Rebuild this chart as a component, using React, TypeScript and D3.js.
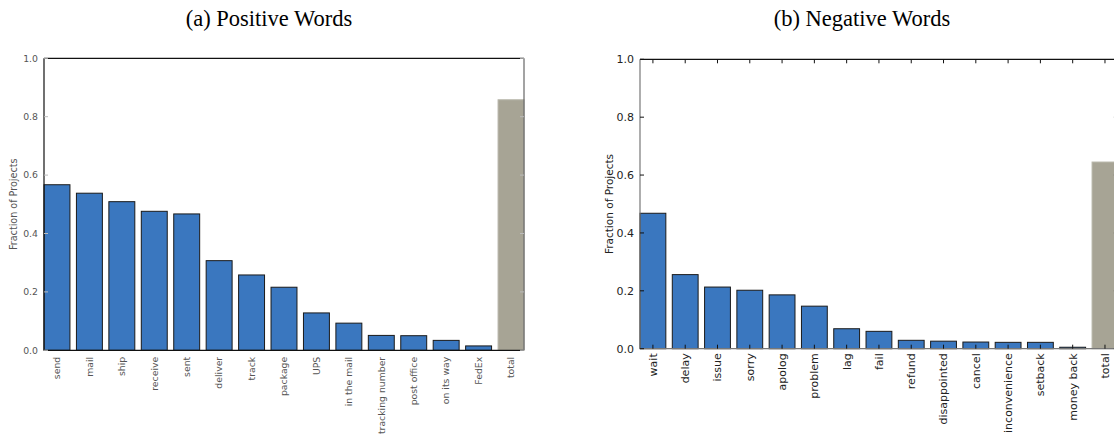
import React from "react";
import * as d3 from "d3";

const posWords = ["send", "mail", "ship", "receive", "sent", "deliver", "track", "package", "UPS", "in the mail", "tracking number", "post office", "on its way", "FedEx", "total"];
const posValues = [0.567, 0.538, 0.509, 0.476, 0.467, 0.307, 0.258, 0.216, 0.128, 0.093, 0.051, 0.05, 0.034, 0.015, 0.858];

const negWords = ["wait", "delay", "issue", "sorry", "apolog", "problem", "lag", "fail", "refund", "disappointed", "cancel", "inconvenience", "setback", "money back", "total"];
const negValues = [0.468, 0.256, 0.213, 0.202, 0.186, 0.147, 0.069, 0.06, 0.029, 0.026, 0.023, 0.022, 0.022, 0.005, 0.645];

const yTicks = [0, 0.2, 0.4, 0.6, 0.8, 1.0];

const BLUE = "#3a77bf";
const GRAY = "#a7a495";

interface PanelProps {
  words: string[];
  values: number[];
  left: number;
  right: number;
  top: number;
  bottom: number;
  fontSize: number;
  labelFont: number;
  textColor: string;
  leftSpine: string;
  bottomSpine: string;
  rightSpine: string;
  tickColor: string;
  xTicks: boolean;
  xLabelGap: number;
  titleText: string;
  titleX: number;
  yLabelX: number;
}

function Panel(p: PanelProps) {
  const x = d3.scaleLinear().domain([0, 14.8]).range([p.left, p.right]);
  const y = d3.scaleLinear().domain([0, 1]).range([p.bottom, p.top]);
  const bw = x(0.8) - x(0);
  const n = p.words.length;
  const sans = "DejaVu Sans, sans-serif";
  return (
    <g>
      <text x={p.titleX} y={26} textAnchor="middle" fontFamily="Liberation Serif, Times New Roman, serif" fontSize={22.5} fill="#000">
        {p.titleText}
      </text>
      {p.values.map((v, i) => (
        <rect
          key={i}
          x={x(i)}
          y={y(v)}
          width={bw}
          height={y(0) - y(v)}
          fill={i === n - 1 ? GRAY : BLUE}
          stroke={i === n - 1 ? "#b8b6aa" : "#1a1a1a"}
          strokeWidth={1}
        />
      ))}
      <line x1={p.left} x2={p.right} y1={p.top} y2={p.top} stroke="#111" strokeWidth={1.2} />
      <line x1={p.left} x2={p.right} y1={p.bottom} y2={p.bottom} stroke={p.bottomSpine} strokeWidth={1.2} />
      <line x1={p.left} x2={p.left} y1={p.top} y2={p.bottom} stroke={p.leftSpine} strokeWidth={1.2} />
      <line x1={p.right} x2={p.right} y1={p.top} y2={p.bottom} stroke={p.rightSpine} strokeWidth={1.2} />
      {yTicks.map((t) => (
        <g key={t}>
          <line x1={p.left} x2={p.left + 4} y1={y(t)} y2={y(t)} stroke={p.tickColor} />
          <line x1={p.right} x2={p.right - 4} y1={y(t)} y2={y(t)} stroke={p.tickColor} />
          <text x={p.left - 6} y={y(t)} dy="0.35em" textAnchor="end" fontFamily={sans} fontSize={p.fontSize} fill={p.textColor}>
            {t.toFixed(1)}
          </text>
        </g>
      ))}
      {p.words.map((w, i) => {
        const cx = x(i + 0.4);
        return (
          <g key={w}>
            {p.xTicks && (
              <>
                <line x1={cx} x2={cx} y1={p.top} y2={p.top + 4} stroke={p.tickColor} />
                <line x1={cx} x2={cx} y1={p.bottom} y2={p.bottom - 4} stroke={p.tickColor} />
              </>
            )}
            <text
              transform={`translate(${cx},${p.bottom + p.xLabelGap}) rotate(-90)`}
              textAnchor="end"
              dy="0.35em"
              fontFamily={sans}
              fontSize={p.fontSize}
              fill={p.textColor}
            >
              {w}
            </text>
          </g>
        );
      })}
      <text
        transform={`translate(${p.yLabelX},${(p.top + p.bottom) / 2}) rotate(-90)`}
        textAnchor="middle"
        fontFamily={sans}
        fontSize={p.labelFont}
        fill={p.textColor}
      >
        Fraction of Projects
      </text>
    </g>
  );
}

export default function App() {
  return (
    <svg width={1114} height={434} style={{ position: "absolute", left: 0, top: 0, background: "#fff" }}>
      <rect x={0} y={0} width={1114} height={434} fill="#fff" />
      <Panel
        words={posWords}
        values={posValues}
        left={44}
        right={524}
        top={58.3}
        bottom={350.3}
        fontSize={9.3}
        labelFont={9.6}
        textColor="#555"
        leftSpine="#111"
        bottomSpine="#111"
        rightSpine="#666"
        tickColor="#bbb"
        xTicks={false}
        xLabelGap={6.5}
        titleText="(a) Positive Words"
        titleX={269}
        yLabelX={17}
      />
      <Panel
        words={negWords}
        values={negValues}
        left={640}
        right={640 + 14.8 * 32.29}
        top={59.3}
        bottom={348.7}
        fontSize={11}
        labelFont={10.5}
        textColor="#222"
        leftSpine="#777"
        bottomSpine="#777"
        rightSpine="#777"
        tickColor="#111"
        xTicks={true}
        xLabelGap={4.6}
        titleText="(b) Negative Words"
        titleX={862}
        yLabelX={613}
      />
    </svg>
  );
}
